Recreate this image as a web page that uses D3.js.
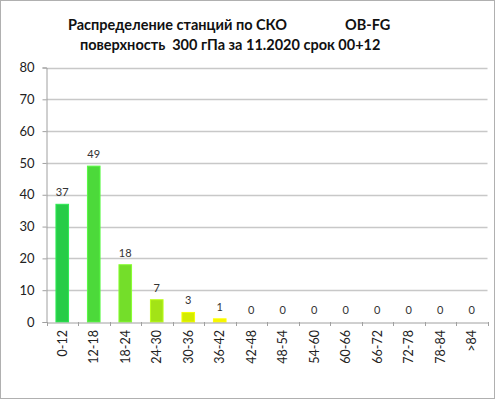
<!DOCTYPE html>
<html><head><meta charset="utf-8">
<script src="https://cdn.jsdelivr.net/npm/d3@7"></script>
<style>body{margin:0;background:#fff}svg{display:block}</style>
</head><body>
<script>
const categories = ["0-12","12-18","18-24","24-30","30-36","36-42","42-48","48-54","54-60","60-66","66-72","72-78","78-84",">84"];
const values = [37,49,18,7,3,1,0,0,0,0,0,0,0,0];
const barColors = ["#27cc47","#4cd93a","#74de2a","#a3e316","#d4ec00","#f5f500","#f5f500","#f5f500","#f5f500","#f5f500","#f5f500","#f5f500","#f5f500","#f5f500"];
const yTicks = [0,10,20,30,40,50,60,70,80];
const titleLine1 = "Распределение станций по СКО";
const titleLine1b = "OB-FG";
const titleLine2 = "поверхность  300 гПа за 11.2020 срок 00+12";

const W = 496, H = 399;
const font = "Lato, 'Open Sans', sans-serif";
const svg = d3.select("body").append("svg").attr("width", W).attr("height", H);
svg.append("rect").attr("x",0.5).attr("y",0.5).attr("width",494).attr("height",398)
  .attr("fill","#fff").attr("stroke","#b0b0b0");

const m = {left:46.5, right:487.5, top:67.5, bottom:322};
const x = d3.scaleBand().domain(categories).range([m.left, m.right]).paddingInner(0.6).paddingOuter(0.3);
const xb = d3.scaleBand().domain(categories).range([m.left, m.right]);
const y = d3.scaleLinear().domain([0,80]).range([m.bottom, m.top]);

// gridlines
svg.append("g").selectAll("line").data(yTicks.filter(d=>d>0)).join("line")
  .attr("x1", m.left).attr("x2", m.right)
  .attr("y1", d=>Math.round(y(d))+0.5).attr("y2", d=>Math.round(y(d))+0.5)
  .attr("stroke","#c8c8c8").attr("stroke-width",1.5);

// y axis
const ya = svg.append("g").attr("transform",`translate(${m.left},0)`)
  .call(d3.axisLeft(y).tickValues(yTicks).tickSize(4).tickPadding(8));
ya.select(".domain").attr("stroke","#a0a0a0");
ya.selectAll(".tick line").attr("stroke","#a0a0a0");
ya.selectAll("text").attr("font-family",font).attr("font-size",13).attr("fill","#222");

// bars
svg.append("g").selectAll("rect").data(values).join("rect")
  .attr("x",(d,i)=>x(categories[i])).attr("width",x.bandwidth())
  .attr("y",d=>y(d)).attr("height",d=>y(0)-y(d))
  .attr("fill",(d,i)=>barColors[i])
  .attr("stroke",(d,i)=>d3.color(barColors[i]).brighter(0.4)).attr("stroke-width",1);

// x axis
const xa = svg.append("g").attr("transform",`translate(0,${Math.round(m.bottom)+0.5})`)
  .call(d3.axisBottom(xb).tickSize(0).tickFormat(""));
xa.select(".domain").attr("stroke","#a0a0a0");
svg.append("g").selectAll("line").data(categories.concat(["end"])).join("line")
  .attr("x1",(d,i)=>Math.round(m.left + i*xb.step())+0.5)
  .attr("x2",(d,i)=>Math.round(m.left + i*xb.step())+0.5)
  .attr("y1",m.bottom).attr("y2",m.bottom+4).attr("stroke","#a0a0a0");

// x labels
svg.append("g").selectAll("text").data(categories).join("text")
  .attr("transform",d=>`translate(${xb(d)+xb.bandwidth()/2+4.5},330) rotate(-90)`)
  .attr("text-anchor","end").attr("font-family",font).attr("font-size",12.5).attr("fill","#222")
  .text(d=>d);

// data labels
svg.append("g").selectAll("text").data(values).join("text")
  .attr("x",(d,i)=>xb(categories[i])+xb.bandwidth()/2)
  .attr("y",d=>y(d)-8)
  .attr("text-anchor","middle").attr("font-family",font).attr("font-size",11).attr("fill","#333")
  .text(d=>d);

// title
const t = svg.append("g").attr("font-family",font).attr("font-weight","bold").attr("font-size",14.5).attr("fill","#111");
t.append("text").attr("x",68).attr("y",30).text(titleLine1);
t.append("text").attr("x",345).attr("y",30).text(titleLine1b);
t.append("text").attr("x",80).attr("y",50).attr("xml:space","preserve").style("white-space","pre").text(titleLine2);
</script>
</body></html>
